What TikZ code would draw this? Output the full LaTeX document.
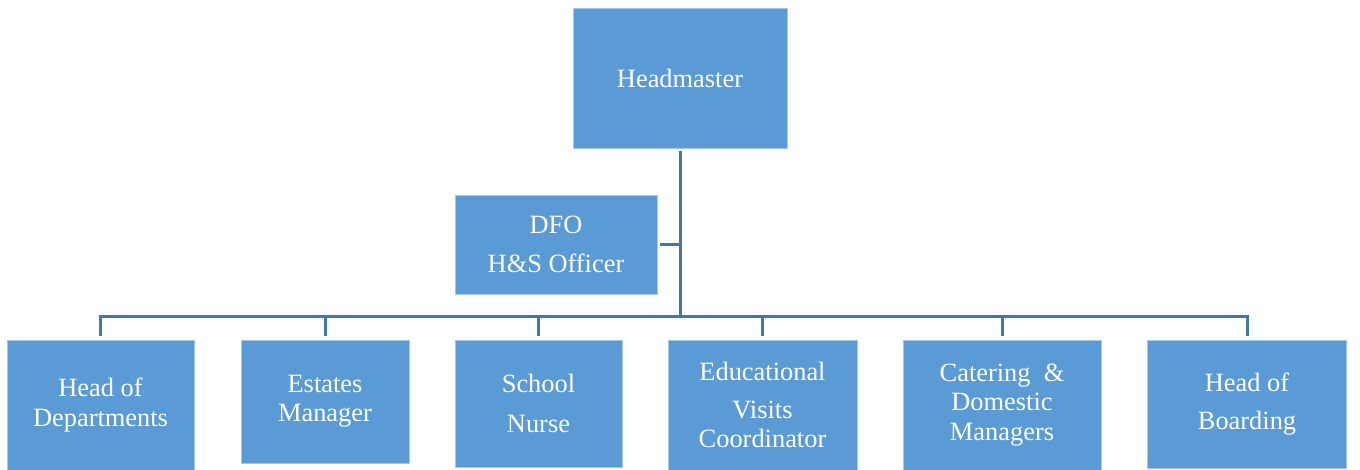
\documentclass[tikz,border=0pt]{standalone}
\usepackage{fontspec}
\setmainfont{Liberation Serif}
\definecolor{boxblue}{HTML}{5B9BD5}
\definecolor{linecol}{HTML}{4676A8}
\begin{document}
\begin{tikzpicture}[x=1bp,y=-1bp,
  box/.style={draw=boxblue!55!white, line width=0.8bp, fill=boxblue, text=white,
    inner sep=0pt, align=center, font=\fontsize{26.5}{29.5}\selectfont},
  conn/.style={draw=linecol, line width=3bp}]
\useasboundingbox (0,0) rectangle (1360,470);
\node[box, minimum width=214bp, minimum height=140bp] (head) at (680,78) {Headmaster};
\node[box, minimum width=202bp, minimum height=99bp] (dfo) at (556,244.5) {DFO\\[10bp]H\&S Officer};
\node[box, minimum width=187bp, minimum height=130bp] (b1) at (100.5,405) {Head of\\Departments};
\node[box, minimum width=168bp, minimum height=123bp] (b2) at (325,401.5) {Estates\\Manager};
\node[box, minimum width=167bp, minimum height=127bp] (b3) at (538.5,403.5) {School\\[10bp]Nurse};
\node[box, minimum width=189bp, minimum height=130bp] (b4) at (762.5,405) {Educational\\[9bp]Visits\\Coordinator};
\node[box, minimum width=198bp, minimum height=130bp] (b5) at (1002,405) {Catering \ \&\\Domestic\\Managers};
\node[box, minimum width=199bp, minimum height=128bp] (b6) at (1247,404) {Head of\\[9bp]Boarding};
\coordinate (bus) at (680,316);
\draw[conn, shorten <=3bp] (head.south) -- (bus);
\draw[conn, shorten <=3bp] (dfo.east) -- (dfo.east -| bus);
\foreach \k in {b1,b2,b3,b4,b5,b6}
  \draw[conn, shorten >=4bp] (bus) -| (\k.north);
\end{tikzpicture}
\end{document}
